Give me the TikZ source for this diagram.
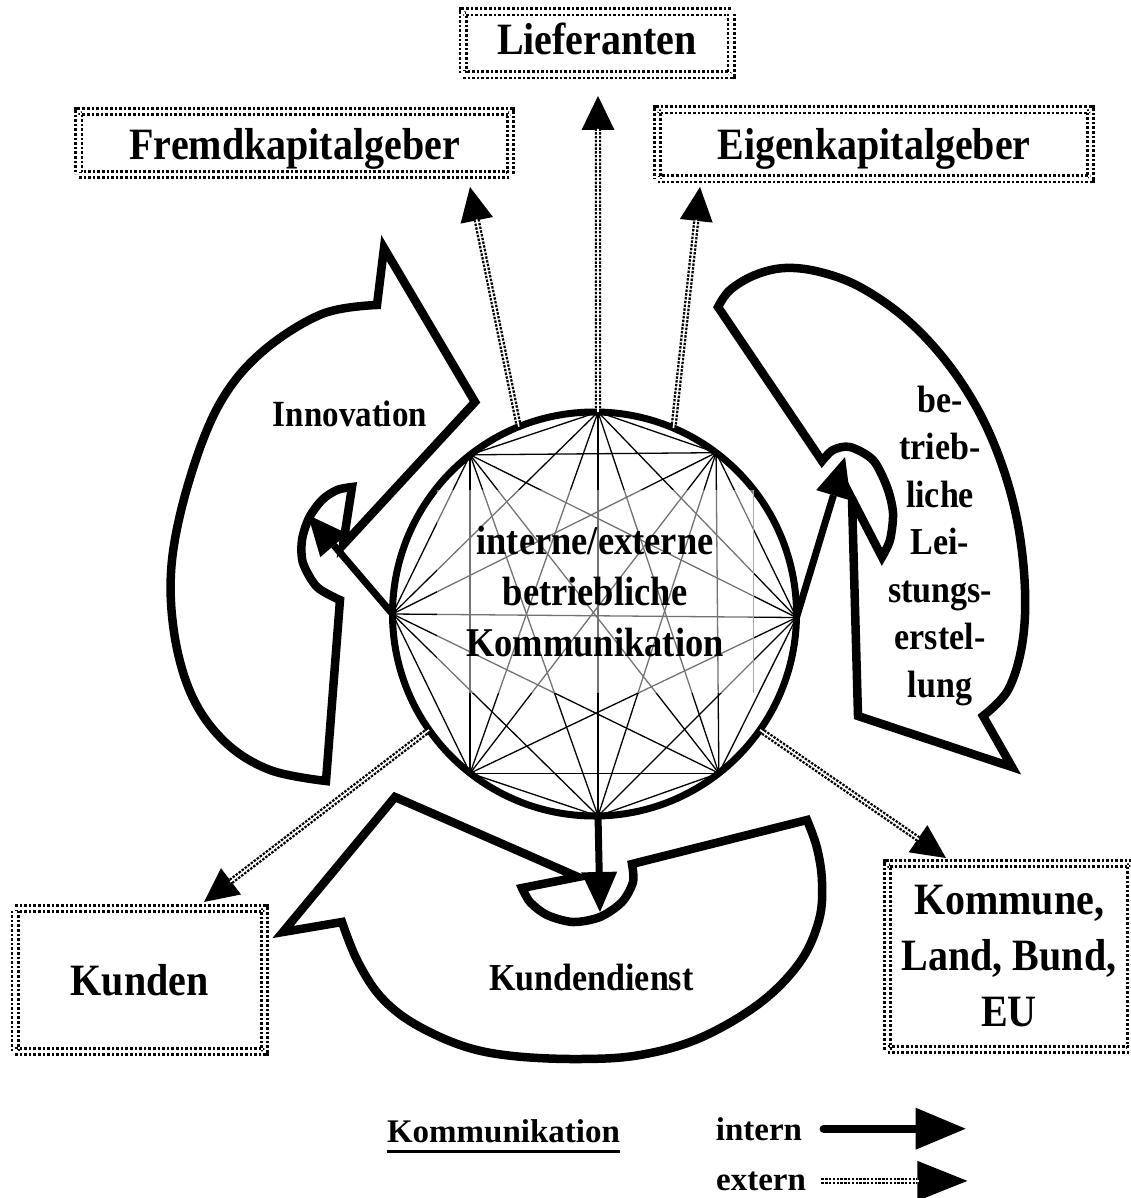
\documentclass[tikz,border=0pt]{standalone}
\usepackage{fontspec}
\setmainfont{Liberation Serif}
\usepackage{graphicx}
\usetikzlibrary{arrows.meta}
% slightly taller lettering
\newcommand\vs[1]{\scalebox{1}[1.12]{#1}}
% heavy underline
\newcommand\thickul[1]{\setbox0\hbox{#1}\rlap{\rule[-11pt]{\wd0}{3pt}}\box0}

\begin{document}
\begin{tikzpicture}[x=1pt, y=-1pt,
  every node/.style={font=\bfseries},
  frame/.style={draw, double, double distance=3.8pt, line width=2.6pt,
    dash pattern=on 2.6pt off 2pt, inner sep=0pt,
    font=\fontsize{40}{56}\selectfont\bfseries},
  chord/.style={line width=1.3pt},
  blockarrow/.style={draw, fill=white, line width=8.5pt, line join=miter},
  intline/.style={line width=7pt, -{Triangle[length=40pt,width=36pt,line width=0pt]}},
  extline/.style={line width=6.2pt, dash pattern=on 2.4pt off 1.4pt,
    postaction={draw=white, solid, line width=1.6pt, arrows=-, shorten >=#1}},
  extline/.default=33pt,
  exthead/.style={-{Triangle[length=34pt,width=33pt,line width=0pt]}},
  legfont/.style={font=\fontsize{33}{40}\selectfont\bfseries}
]
\useasboundingbox (0,0) rectangle (1130,1198);

% --- partner boxes ---
\node[frame, minimum width=268pt, minimum height=63pt, text height=23pt, text depth=0pt]
  (lief) at (597,43.5) {\vs{Lieferanten}};
\node[frame, minimum width=431.5pt, minimum height=63pt, text height=34pt, text depth=0pt]
  (fremd) at (294.7,143) {\vs{Fremdkapitalgeber}};
\node[frame, minimum width=433pt, minimum height=69pt, text height=31pt, text depth=0pt]
  (eigen) at (874,144.5) {\vs{Eigenkapitalgeber}};
\node[frame, minimum width=249.5pt, minimum height=143pt, text height=30pt, text depth=0pt]
  (kunden) at (139.8,980) {\vs{Kunden}};
\node[frame, minimum width=243pt, minimum height=186pt, align=center]
  (staat) at (1009,956.5) {\vs{Kommune,}\\\vs{Land, Bund,}\\\vs{EU}};

% --- communication hub: circle with all chords ---
\node[draw, circle, line width=7pt, minimum size=404pt, inner sep=0pt, outer sep=0pt]
  (hub) at (594.5,614) {};
\foreach \a [count=\i] in {89,53,359,308,271,232,180,128}{
  \foreach \b [count=\j] in {89,53,359,308,271,232,180,128}{
    \ifnum\i<\j \draw[chord] (hub.\a) -- (hub.\b); \fi
  }
}
\node[fill=white, fill opacity=0.45, text opacity=1, minimum width=316pt, minimum height=203pt,
  inner sep=0pt, align=center, font=\fontsize{36.5}{51}\selectfont\bfseries]
  (hubtext) at (595,591.5) {\vs{interne/externe}\\\vs{betriebliche}\\\vs{Kommunikation}};
\draw[gray!70, line width=0.8pt] (hubtext.north east) -- (hubtext.south east);

% --- Innovation block arrow ---
\draw[blockarrow] (384,248) -- (377,305)
  -- plot[smooth, tension=0.6] coordinates {(377,305) (322,314) (262,352) (220,403) (190,478)
      (172,560) (174,632) (192,696) (225,742) (270,770) (326,781)}
  -- (340,600)
  -- plot[smooth] coordinates {(340,600) (317,587) (303,563) (302,540) (309,518) (322,500)
      (337,490) (352,487)}
  -- (343,545) -- (475,402) -- cycle;

% --- betriebliche Leistungserstellung block arrow ---
\draw[blockarrow] (718,307)
  -- plot[smooth, tension=0.6] coordinates {(718,307) (730,290) (755,275) (785,268) (820,272)
      (860,287) (905,318) (945,360) (978,410) (1002,465) (1018,525) (1025,590)
      (1022,645) (1008,690) (983,716)}
  -- (1012,767) -- (858,716) -- (852,499) -- (882,557)
  -- plot[smooth] coordinates {(882,557) (890,540) (893,513) (887,487) (873,460) (850,447)
      (833,450) (822,461)}
  -- cycle;

% --- Kundendienst block arrow ---
\draw[blockarrow] (283,932) -- (395,797) -- (578,877) -- (522,888)
  -- plot[smooth] coordinates {(522,888) (530,902) (547,915) (573,922) (600,917) (622,902)
      (633,882) (632,864)}
  -- (807,820)
  -- plot[smooth, tension=0.6] coordinates {(807,820) (817,848) (822,882) (819,920) (800,962)
      (760,1003) (700,1038) (640,1055) (580,1059) (513,1056) (463,1046) (413,1023)
      (380,996) (357,960) (342,922)}
  -- cycle;

% --- internal communication ---
\coordinate (innoTip) at (308,515);
\coordinate (leistTip) at (845,457);
\coordinate (kdTip) at (600,912);
\draw[intline] (hub.180) -- (innoTip);
\draw[intline] (hub.359) -- (leistTip);
\draw[intline] (hub.271) -- (kdTip);

% --- external communication ---
\coordinate (liefIn) at (598,96);
\coordinate (fremdIn) at (470,187);
\coordinate (eigenIn) at (700,187);
\coordinate (kundenIn) at (204,902);
\coordinate (staatIn) at (946,858);
\draw[extline, exthead] (hub.89) -- (liefIn);
\draw[extline, exthead] (hub.112) -- (fremdIn);
\draw[extline, exthead] (hub.67) -- (eigenIn);
\draw[extline, exthead] (hub.215) -- (kundenIn);
\draw[extline, exthead] (hub.325) -- (staatIn);

% --- labels of the block arrows ---
\node[font=\fontsize{33}{40}\selectfont\bfseries, anchor=base] (innov) at (350,426) {\vs{Innovation}};
\node[font=\fontsize{34}{40}\selectfont\bfseries, anchor=base] (kdienst) at (591.5,990) {\vs{Kundendienst}};
\node[font=\fontsize{34}{47.5}\selectfont\bfseries, align=center] (leist) at (940,545.5)
  {\vs{be-}\\\vs{trieb-}\\\vs{liche}\\\vs{Lei-}\\\vs{stungs-}\\\vs{erstel-}\\\vs{lung}};

% --- legend ---
\node[legfont, anchor=base] (legtitle) at (503.5,1142) {\thickul{Kommunikation}};
\node[legfont, anchor=base] (legint) at (759,1140) {intern};
\node[legfont, anchor=base] (legext) at (761,1190) {extern};
\draw[line width=8pt, line cap=round, -{Triangle[length=50pt,width=42pt,line width=0pt]}]
  ([xshift=18pt]legint.east) -- ++(142,0);
\draw[extline=48pt, -{Triangle[length=50pt,width=40pt,line width=0pt]}]
  ([xshift=12pt]legext.east) -- ++(146,0);
\end{tikzpicture}
\end{document}
